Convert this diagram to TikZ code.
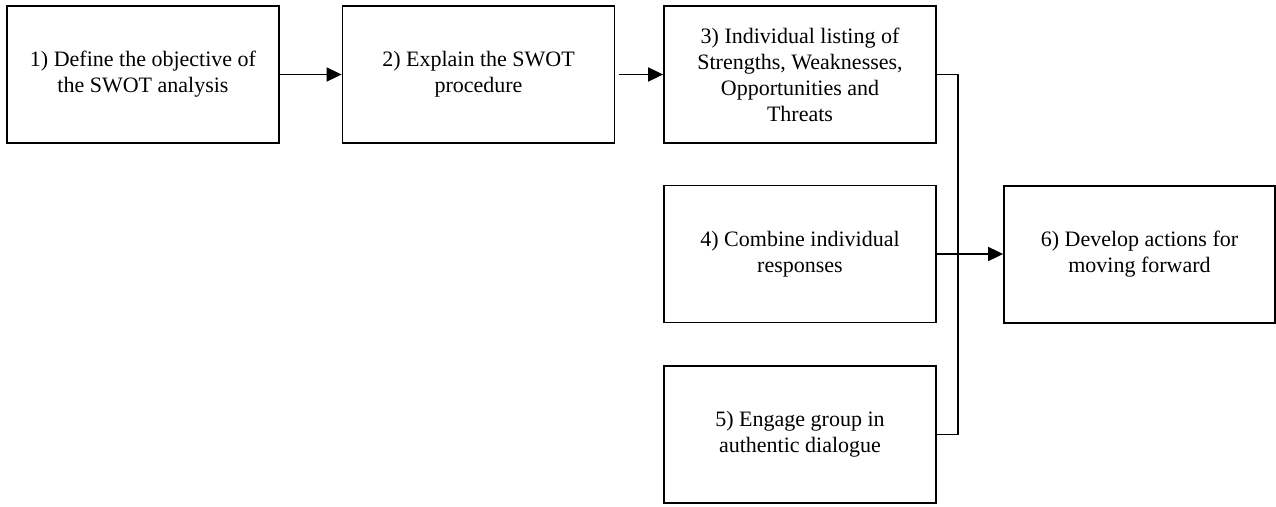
\documentclass[tikz,border=0pt]{standalone}
\usepackage{fontspec}
\setmainfont{Liberation Serif}
\usetikzlibrary{arrows.meta}

\def\boxbreite{272}
\def\boxhoehe{137}
\def\spalteA{143}
\def\spalteB{478.5}
\def\spalteC{800}

\begin{document}
\begin{tikzpicture}[x=1pt,y=-1pt,
    stepbox/.style={draw, line width=1.8pt, minimum width=\boxbreite pt, minimum height=\boxhoehe pt,
      align=center, inner sep=0pt, font=\fontsize{22}{26}\selectfont},
    pfeil/.style={line width=1.8pt, -{Triangle[length=15pt,width=14pt]}},
    linie/.style={line width=1.8pt}]

\useasboundingbox (0,0) rectangle (1276,506);

% Schritte
\node[stepbox] (s1) at (\spalteA,74.5) {1) Define the objective of\\the SWOT analysis};
\node[stepbox] (s2) at (\spalteB,74.5) {2) Explain the SWOT\\procedure};
\node[stepbox] (s3) at (\spalteC,74.5) {3) Individual listing of\\Strengths, Weaknesses,\\Opportunities and\\Threats};
\node[stepbox] (s4) at (\spalteC,254) {4) Combine individual\\responses};
\node[stepbox] (s5) at (\spalteC,434.5) {5) Engage group in\\authentic dialogue};
\node[stepbox, minimum width=271pt] (s6) at (1139.5,254.5) {6) Develop actions for\\moving forward};

% Verbindungen
\coordinate (knick) at (958,0);

\draw[pfeil] (s1.east) -- (s2.west);
\draw[pfeil] ([xshift=4pt]s2.east) -- (s3.west);
\draw[linie] (s3.east) -- (knick |- s3.east) -- (knick |- s5.east) -- (s5.east);
\draw[pfeil] (s4.east) -- (s4.east -| s6.west);

\end{tikzpicture}
\end{document}
